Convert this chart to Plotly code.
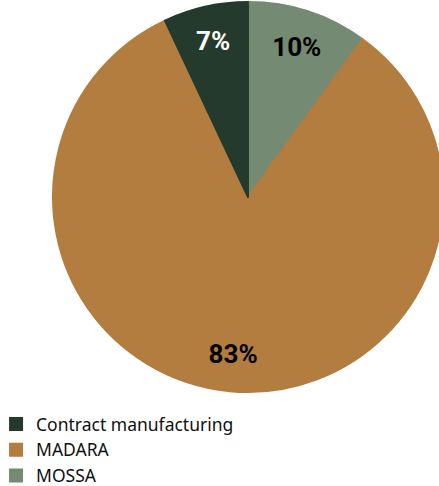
import plotly.graph_objects as go

labels = ["MOSSA", "MADARA", "Contract manufacturing"]
values = [10, 83, 7]
colors = ["#758a72", "#b27d3e", "#243a2d"]
text_colors = ["#000000", "#000000", "#ffffff"]

fig = go.Figure()
# Filled pie (slices + legend)
fig.add_trace(go.Pie(
    labels=labels,
    values=values,
    sort=False,
    direction="clockwise",
    rotation=0,
    marker=dict(colors=colors, line=dict(width=2, color=colors)),
    textinfo="none",
    hoverinfo="label+percent",
    domain=dict(x=[0, 1], y=[0, 1]),
))
# Transparent ring carrying the percentage labels
fig.add_trace(go.Pie(
    labels=labels,
    values=values,
    sort=False,
    direction="clockwise",
    rotation=0,
    hole=0.62,
    marker=dict(colors=["rgba(0,0,0,0)"] * 3, line=dict(width=0)),
    texttemplate="<b>%{percent:.0%}</b>",
    textposition="inside",
    insidetextorientation="horizontal",
    insidetextfont=dict(family="Roboto", size=26, color=text_colors),
    hoverinfo="skip",
    showlegend=False,
    domain=dict(x=[0, 1], y=[0, 1]),
))

fig.update_layout(
    width=443, height=486,
    margin=dict(l=53, r=0, t=2, b=94, autoexpand=False),
    paper_bgcolor="white",
    plot_bgcolor="white",
    showlegend=True,
    legend=dict(
        x=-0.146, y=-0.036, xanchor="left", yanchor="top",
        font=dict(family="Noto Sans", size=17.5, color="#111111"),
        traceorder="reversed",
    ),
)

fig.write_html("out.html")
